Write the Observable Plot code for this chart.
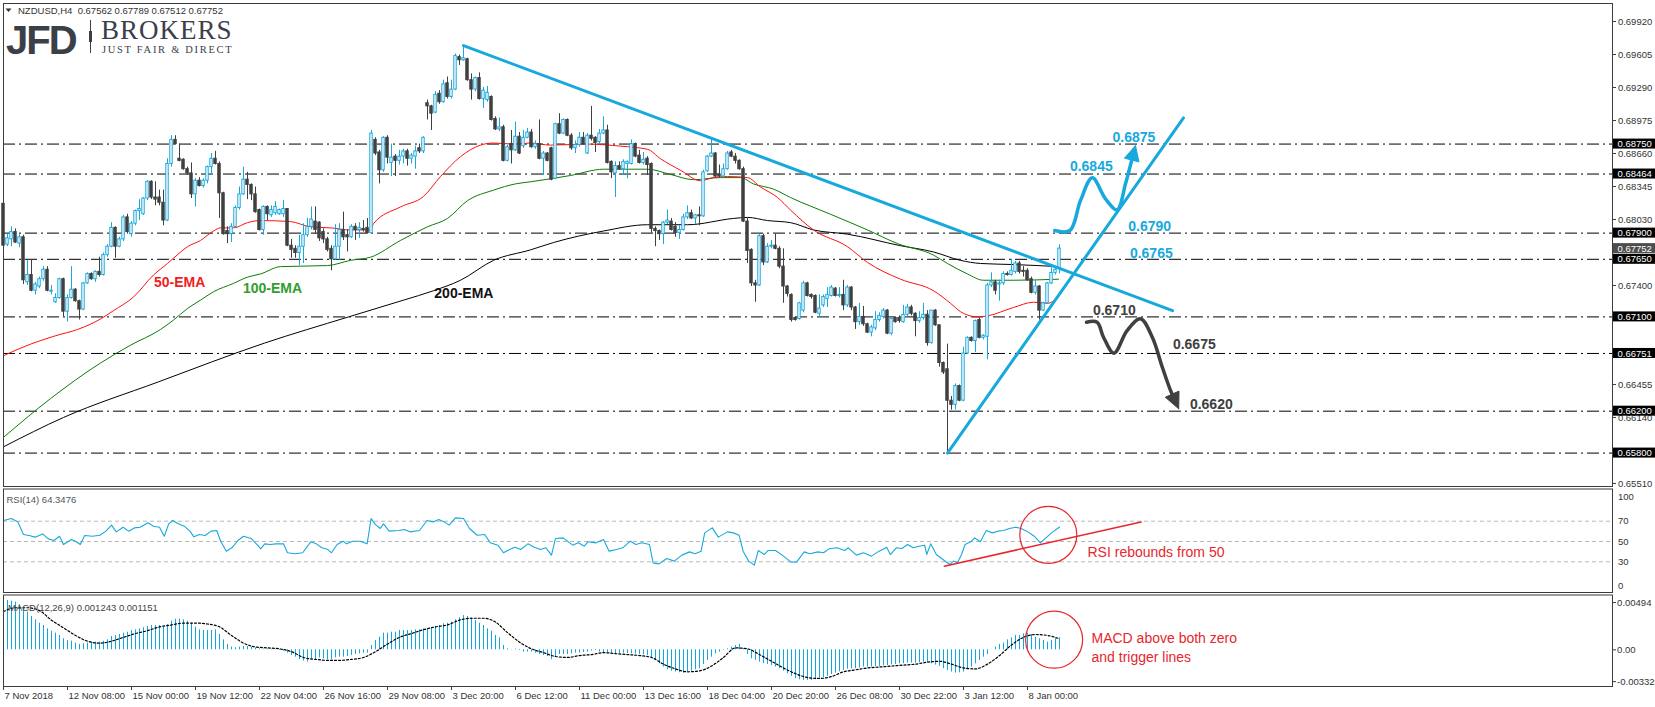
<!DOCTYPE html>
<html>
<head>
<meta charset="utf-8">
<script src="https://cdn.jsdelivr.net/npm/d3@7"></script>
<script src="https://cdn.jsdelivr.net/npm/@observablehq/plot@0.6"></script>
<style>
  html, body { margin: 0; padding: 0; background: #fff; }
  #chart { position: relative; width: 1655px; height: 707px; overflow: hidden; background: #fff; }
  .panel { position: absolute; left: 0; width: 1655px; }
  .panel svg { display: block; max-width: none !important; }
</style>
</head>
<body>
<div id="chart">
  <div id="main" class="panel" style="top:0px"></div>
  <div id="rsi" class="panel" style="top:488px"></div>
  <div id="macd" class="panel" style="top:594px"></div>
  <svg id="overlay" width="420" height="72" style="position:absolute;left:0;top:0;pointer-events:none">
    <path d="M5.5,8.5 L11.5,8.5 L8.5,12 Z" fill="#333"/>
    <text x="18" y="14" font-family="Liberation Sans, Arial, sans-serif" font-size="9.5" fill="#333" style="white-space:pre">NZDUSD,H4  0.67562 0.67789 0.67512 0.67752</text>
    <text x="6" y="53.5" font-family="Liberation Sans, Arial, sans-serif" font-weight="bold" font-size="40" letter-spacing="-2" fill="#3b4048">JFD</text>
    <line x1="90.5" y1="20" x2="90.5" y2="53" stroke="#3b4048" stroke-width="1"/>
    <rect x="89" y="31" width="3" height="11" fill="#3b4048"/>
    <text x="101" y="38.5" font-family="Liberation Serif, Times New Roman, serif" font-size="27" letter-spacing="1" fill="#3b4048">BROKERS</text>
    <text x="102" y="53" font-family="Liberation Serif, Times New Roman, serif" font-size="10.5" letter-spacing="1.7" fill="#3b4048">JUST FAIR &amp; DIRECT</text>
  </svg>
</div>
<script>
// ---------------- DATA ----------------
// NZDUSD H4 candles, bar index 0..264
const opens = [
.6818,.6779,.6784,.6791,.6780,.6786,.6743,.6750,.6735,.6739,
.6746,.6755,.6734,.6724,.6728,.6746,.6715,.6728,.6736,.6725,
.6717,.6742,.6751,.6746,.6753,.6750,.6769,.6777,.6795,.6777,
.6784,.6805,.6789,.6799,.6811,.6808,.6823,.6839,.6824,.6824,
.6819,.6802,.6856,.6879,.6861,.6860,.6851,.6847,.6827,.6840,
.6835,.6840,.6853,.6861,.6856,.6828,.6792,.6789,.6796,.6814,
.6827,.6841,.6836,.6827,.6812,.6793,.6815,.6807,.6809,.6808,
.6808,.6813,.6778,.6775,.6771,.6777,.6788,.6796,.6801,.6800,
.6791,.6784,.6775,.6765,.6777,.6793,.6788,.6786,.6796,.6793,
.6794,.6795,.6790,.6879,.6867,.6850,.6881,.6857,.6863,.6859,
.6863,.6868,.6861,.6863,.6871,.6868,.6914,.6911,.6905,.6923,
.6915,.6933,.6920,.6927,.6958,.6955,.6956,.6936,.6927,.6938,
.6918,.6917,.6920,.6899,.6889,.6891,.6859,.6875,.6869,.6882,
.6873,.6881,.6886,.6872,.6875,.6861,.6866,.6871,.6842,.6894,
.6885,.6898,.6883,.6871,.6874,.6881,.6866,.6883,.6881,.6877,
.6885,.6888,.6858,.6847,.6854,.6851,.6856,.6856,.6875,.6864,
.6857,.6861,.6856,.6794,.6792,.6789,.6800,.6801,.6796,.6790,
.6793,.6805,.6809,.6804,.6807,.6806,.6849,.6863,.6866,.6846,
.6844,.6851,.6867,.6863,.6859,.6851,.6801,.6774,.6742,.6740,
.6787,.6762,.6777,.6778,.6775,.6758,.6739,.6731,.6709,.6708,
.6716,.6742,.6731,.6730,.6713,.6721,.6727,.6730,.6737,.6730,
.6731,.6721,.6738,.6719,.6705,.6710,.6703,.6695,.6699,.6707,
.6710,.6716,.6694,.6709,.6709,.6705,.6712,.6719,.6713,.6706,
.6709,.6712,.6685,.6716,.6702,.6666,.6660,.6630,.6626,.6644,
.6630,.6675,.6690,.6687,.6707,.6690,.6691,.6740,.6743,.6741,
.6742,.6751,.6750,.6753,.6761,.6754,.6754,.6746,.6733,.6739,
.6716,.6723,.6742,.6752,.67562];
const highs = [
.6820,.6789,.6796,.6794,.6789,.6788,.6764,.6764,.6743,.6748,
.6758,.6758,.6740,.6732,.6747,.6747,.6731,.6758,.6737,.6726,
.6743,.6752,.6752,.6754,.6767,.6771,.6779,.6800,.6796,.6786,
.6807,.6808,.6801,.6812,.6822,.6824,.6840,.6840,.6839,.6831,
.6831,.6861,.6883,.6883,.6875,.6861,.6853,.6857,.6842,.6843,
.6842,.6854,.6866,.6868,.6858,.6829,.6796,.6799,.6816,.6834,
.6853,.6848,.6837,.6834,.6813,.6816,.6816,.6816,.6820,.6813,
.6821,.6813,.6784,.6778,.6788,.6799,.6804,.6815,.6815,.6801,
.6794,.6786,.6778,.6798,.6799,.6810,.6793,.6798,.6799,.6800,
.6802,.6804,.6888,.6881,.6869,.6882,.6883,.6875,.6865,.6869,
.6870,.6870,.6866,.6873,.6875,.6882,.6917,.6912,.6925,.6926,
.6936,.6939,.6936,.6961,.6960,.6969,.6957,.6942,.6939,.6943,
.6929,.6930,.6921,.6901,.6900,.6893,.6874,.6888,.6896,.6886,
.6888,.6890,.6889,.6878,.6898,.6868,.6867,.6872,.6895,.6904,
.6899,.6899,.6885,.6878,.6886,.6886,.6885,.6911,.6882,.6889,
.6901,.6893,.6859,.6858,.6858,.6860,.6859,.6879,.6876,.6869,
.6867,.6863,.6857,.6796,.6793,.6801,.6812,.6804,.6800,.6797,
.6808,.6816,.6812,.6808,.6815,.6850,.6864,.6881,.6867,.6855,
.6856,.6868,.6869,.6866,.6860,.6853,.6804,.6775,.6745,.6789,
.6789,.6780,.6783,.6789,.6777,.6775,.6740,.6732,.6710,.6724,
.6744,.6743,.6732,.6731,.6731,.6731,.6738,.6740,.6738,.6738,
.6745,.6740,.6739,.6720,.6723,.6720,.6704,.6702,.6715,.6714,
.6718,.6717,.6709,.6710,.6711,.6721,.6722,.6721,.6714,.6715,
.6723,.6716,.6716,.6717,.6702,.6667,.6684,.6634,.6646,.6645,
.6681,.6691,.6691,.6707,.6709,.6693,.6742,.6752,.6745,.6745,
.6753,.6753,.6765,.6763,.6763,.6758,.6756,.6748,.6745,.6740,
.6724,.6743,.6757,.6758,.67789];
const lows = [
.6774,.6777,.6777,.6780,.6776,.6741,.6740,.6734,.6731,.6737,
.6744,.6734,.6731,.6723,.6727,.6710,.6705,.6727,.6724,.6707,
.6716,.6741,.6745,.6743,.6748,.6749,.6767,.6776,.6766,.6776,
.6782,.6789,.6786,.6797,.6802,.6807,.6821,.6822,.6816,.6816,
.6797,.6801,.6853,.6874,.6858,.6850,.6845,.6823,.6815,.6834,
.6833,.6837,.6845,.6855,.6804,.6788,.6780,.6781,.6795,.6812,
.6826,.6822,.6821,.6809,.6792,.6788,.6802,.6805,.6807,.6807,
.6805,.6777,.6766,.6766,.6759,.6761,.6786,.6793,.6789,.6782,
.6780,.6772,.6754,.6764,.6764,.6783,.6772,.6785,.6783,.6785,
.6791,.6789,.6789,.6864,.6837,.6848,.6856,.6844,.6844,.6855,
.6856,.6854,.6856,.6851,.6866,.6866,.6898,.6888,.6904,.6913,
.6914,.6918,.6918,.6926,.6950,.6954,.6935,.6917,.6925,.6917,
.6909,.6915,.6897,.6888,.6887,.6858,.6858,.6856,.6868,.6865,
.6871,.6880,.6871,.6870,.6860,.6845,.6858,.6840,.6841,.6884,
.6884,.6882,.6869,.6866,.6872,.6874,.6865,.6878,.6867,.6875,
.6884,.6856,.6842,.6824,.6850,.6845,.6842,.6855,.6862,.6856,
.6855,.6845,.6790,.6777,.6783,.6779,.6798,.6792,.6786,.6784,
.6792,.6803,.6803,.6798,.6797,.6805,.6848,.6862,.6843,.6843,
.6842,.6850,.6862,.6856,.6850,.6800,.6761,.6739,.6724,.6739,
.6759,.6761,.6775,.6774,.6756,.6723,.6729,.6705,.6706,.6707,
.6714,.6729,.6727,.6713,.6709,.6719,.6719,.6729,.6729,.6728,
.6716,.6719,.6716,.6698,.6702,.6701,.6694,.6691,.6697,.6705,
.6708,.6693,.6692,.6704,.6704,.6704,.6710,.6711,.6691,.6704,
.6707,.6682,.6684,.6701,.6662,.6655,.6579,.6621,.6621,.6629,
.6629,.6674,.6686,.6676,.6689,.6688,.6669,.6738,.6731,.6725,
.6740,.6749,.6749,.6751,.6751,.6748,.6744,.6732,.6731,.6707,
.6715,.6722,.6741,.6750,.67512];
const closes = [
.6778,.6785,.6791,.6781,.6786,.6745,.6750,.6735,.6741,.6746,
.6755,.6735,.6735,.6728,.6746,.6715,.6728,.6736,.6725,.6717,
.6742,.6751,.6746,.6753,.6750,.6769,.6777,.6795,.6777,.6784,
.6805,.6791,.6799,.6811,.6813,.6823,.6839,.6824,.6822,.6819,
.6802,.6856,.6879,.6875,.6859,.6851,.6847,.6827,.6840,.6835,
.6840,.6853,.6861,.6856,.6828,.6789,.6789,.6796,.6814,.6827,
.6841,.6836,.6827,.6810,.6793,.6815,.6808,.6812,.6815,.6812,
.6813,.6778,.6774,.6771,.6777,.6788,.6796,.6803,.6793,.6785,
.6784,.6774,.6765,.6777,.6793,.6786,.6786,.6796,.6793,.6795,
.6793,.6790,.6885,.6866,.6850,.6881,.6862,.6862,.6859,.6863,
.6868,.6861,.6864,.6868,.6868,.6881,.6911,.6904,.6922,.6915,
.6932,.6920,.6927,.6959,.6955,.6957,.6936,.6927,.6938,.6918,
.6926,.6924,.6898,.6889,.6891,.6859,.6872,.6869,.6882,.6866,
.6881,.6886,.6872,.6875,.6861,.6866,.6859,.6841,.6894,.6885,
.6898,.6883,.6871,.6874,.6881,.6875,.6883,.6880,.6876,.6885,
.6888,.6857,.6848,.6854,.6851,.6858,.6858,.6875,.6863,.6857,
.6860,.6855,.6794,.6792,.6789,.6800,.6802,.6793,.6790,.6793,
.6805,.6809,.6804,.6807,.6806,.6848,.6863,.6866,.6844,.6844,
.6851,.6866,.6863,.6859,.6851,.6801,.6773,.6742,.6740,.6787,
.6762,.6777,.6778,.6775,.6758,.6739,.6732,.6707,.6707,.6723,
.6742,.6730,.6729,.6714,.6718,.6729,.6731,.6738,.6730,.6731,
.6721,.6738,.6719,.6705,.6710,.6703,.6695,.6700,.6707,.6711,
.6716,.6694,.6708,.6705,.6706,.6712,.6719,.6713,.6706,.6709,
.6712,.6685,.6716,.6702,.6666,.6657,.6630,.6626,.6644,.6630,
.6675,.6690,.6687,.6706,.6690,.6692,.6740,.6743,.6735,.6742,
.6751,.6750,.6754,.6761,.6753,.6753,.6745,.6733,.6739,.6716,
.6723,.6742,.6752,.6755,.67752];

// Moving averages (bar position, value)
const ema50X = [0,6.75,13,18.5,24.25,27.5,32.5,37.5,41,42.5,46,49.25,52.5,54.25,57.5,61,64.25,71.75,76.75,81.75,86.75,91.75,92.5,99.25,105,109.25,114.25,119.25,122.5,127.5,131.75,136.75,146,154.25,161,164.25,169.25,174.25,177.5,181,186,189.25,193.5,196.75,202.5,211,216,224.25,232.5,236.75,239.25,243.5,246,252.5,257.5,261,263.75];
const ema50V = [.6673,.6684,.6692,.6698,.6708,.6716,.6729,.6750,.6761,.6766,.6777,.6783,.6792,.6795,.6795,.6800,.6802,.6801,.6796,.6795,.6793,.6793,.6799,.6815,.6825,.6844,.6863,.6874,.6876,.6875,.6876,.6874,.6875,.6873,.6870,.6861,.6850,.6840,.6843,.6844,.6843,.6834,.6824,.6812,.6793,.6777,.6762,.6746,.6735,.6723,.6715,.6710,.6711,.6719,.6724,.6723,.6729];
const ema100X = [0,11.75,24.25,31.75,39.25,42.5,46,49.25,52.5,57.5,61,64.25,69.25,81,86.75,91.75,99.25,106,111,116,122.5,128,131.75,141.75,150,161,166.75,172.5,179.25,184.25,187.5,192.5,196.75,206.75,216,223.5,232.5,236,241,245,252.5,263.75];
const ema100V = [.6595,.6632,.6666,.6683,.6698,.6707,.6718,.6726,.6734,.6742,.6748,.6751,.6758,.6759,.6764,.6767,.6783,.6796,.6804,.6821,.6831,.6837,.6839,.6845,.6851,.6851,.6846,.6841,.6843,.6843,.6837,.6832,.6824,.6808,.6793,.6780,.6769,.6761,.6751,.6745,.6745,.6746];
const ema200X = [0,15,38.75,65.25,86.25,100,107.5,114.25,122.5,131.75,137.5,150,161,171,182.5,186,191,196.75,202.5,211,224.25,232.5,239.25,244.25,252.5,263.75];
const ema200V = [.6586,.6614,.6648,.6685,.6710,.6726,.6735,.6745,.6764,.6774,.6781,.6792,.6798,.6798,.6804,.6805,.6802,.6800,.6793,.6789,.6778,.6772,.6764,.6761,.6760,.6758];

// Horizontal support / resistance levels and price-axis ticks
const levelVals = [0.68750, 0.68464, 0.67900, 0.67650, 0.67100, 0.66751, 0.66200, 0.65800];
const priceTicks = [0.69920, 0.69605, 0.69290, 0.68975, 0.68660, 0.68345, 0.68030, 0.67400, 0.66455, 0.66140, 0.65510];
const lastPrice = 0.67752;

// Trend lines (bar position, price)
const downX = [115, 292.25], downY = [0.6969, 0.6716];
const upX = [236, 295], upY = [0.6580, 0.6900];

// Scenario paths (bar position, price)
const bullX = [262.8, 266.6, 269.25, 272.2, 275.5, 278.4, 280.5, 283];
const bullY = [0.67925, 0.67925, 0.68211, 0.68428, 0.68227, 0.68122, 0.68371, 0.68736];
const bearX = [270.75, 273.4, 275, 277.6, 280.9, 284.25, 287.2, 289.7, 291.75, 293.8];
const bearY = [0.67049, 0.67049, 0.66906, 0.66754, 0.66970, 0.67082, 0.66906, 0.66620, 0.66398, 0.66223];

// Text annotations in the price panel
const bullTxt = ["0.6875", "0.6845", "0.6790", "0.6765"];
const bullTX = [282.6, 271.95, 286.55, 286.95];
const bullTY = [0.68816, 0.68539, 0.67966, 0.67705];
const bearTxt = ["0.6710", "0.6675", "0.6620"];
const bearTX = [277.7, 297.7, 301.95];
const bearTY = [0.67161, 0.66837, 0.66264];
const emaTxt = ["50-EMA", "100-EMA", "200-EMA"];
const emaTX = [44.05, 67.25, 115.1];
const emaTY = [0.67426, 0.67374, 0.67321];

// RSI(14) line (bar position, value)
const rsiX = [0,2,3.6,5,6.4,7.9,9.8,11.2,12.6,14,15,17,18,19.2,20.3,22.2,24.1,25.6,27,28.2,29.9,31.3,32.7,34.2,36.1,37.5,39,40.2,41.3,42.3,43.7,45.2,46.6,47.6,49,50.4,51.9,53.3,54.3,55.7,57.1,58.6,60,61.9,63.4,64.3,65.3,66.7,68.1,70,71,72.9,74.8,76.8,78.2,79.6,81.1,82,83.4,84.9,85.8,87.3,89.2,90.9,91.9,93,94.2,95,96.4,98.8,100.2,101.6,104,105.9,107.4,108.8,110.2,111.4,113,115,116.5,118.4,120.3,121.7,123.6,125,126.5,127.9,129.3,131.1,132.7,134.2,135.6,137,138,139.9,142.3,143.7,145.2,146.1,148.1,150,151.4,153.3,154.8,156.7,158.1,159.6,161.5,162.4,163.9,165.8,167.7,169.6,171.5,172.9,174.4,175.3,177.2,178.7,181,182.5,183.9,184.9,186.3,187.7,188.7,190.2,191.1,193,195,196.9,198.3,200.2,201.6,203.6,205,206.4,208.4,210.3,211.2,213.2,215,217,218.9,220.8,221.7,223.2,224.6,226,227.4,228.9,230.3,230.8,231.8,233.2,235.2,236.6,237.5,238.5,239.5,240.4,241.8,242.8,244.2,245.7,247.2,248.6,250,251.5,253,254.4,255.8,257.7,259.2,260.6,262,264];
const rsiV = [70.7,72.6,69.3,56.9,55.9,54.3,57.5,52.6,51,55.2,47,52,50.3,47,55.9,55.2,56.2,60.2,66.1,59.5,64.1,60.2,63.4,64.1,68.4,65.1,64.1,55.2,67.4,70.7,67.4,65.1,60.2,54.6,56.9,55.9,60.2,60.8,50.3,40.5,43.8,51,55.2,53,47,42.8,47.7,47,47.7,47.7,38.9,37.9,38.9,49.7,47.7,43.8,42.1,38.9,47,50.3,47.7,50.3,50.3,47.7,72.6,66.7,62.8,67.4,60.2,60.8,61.8,59.5,60.8,70.7,69.3,71.6,69.3,66.1,73.3,72.6,62.8,56.2,56.9,48.7,46.4,38.9,42.1,44.4,42.1,47.7,44.4,42.1,43.8,36.6,53,53.6,46.4,48.7,45.4,49.7,48.7,52,40.5,42.1,43.8,50.3,47,48.7,47,29,28,33.3,30.7,36.6,39.8,37.9,40.5,58.5,63.4,54.3,59.5,58.5,56.2,40.5,30.7,26.7,41.1,37.2,41.1,41.1,35.6,29.7,30,39.8,37.9,39.8,38.9,42.8,43.8,41.1,43.8,36.6,38.9,35.6,40.5,44.4,37.2,43.8,43.1,47,43.8,45.4,46.4,37.2,47.7,37.2,31.3,27.4,30.7,29,37.2,47,49.7,53.6,49.7,60.8,58.5,60.2,60.8,62.8,64.1,62.8,60.2,55.2,48.7,53.6,58.5,64.3];
const rsiLevels = [70, 50, 30];

// MACD(12,26,9) histogram per bar and signal line samples
const macdHist = [
.00515,.00515,.00508,.00498,.00473,.00438,.00393,.00348,.00313,.00278,
.00254,.00219,.00195,.00174,.00150,.00115,.00097,.00090,.00070,.00056,
.00063,.00070,.00080,.00080,.00080,.00090,.00104,.00139,.00150,.00160,
.00174,.00184,.00202,.00209,.00219,.00230,.00244,.00254,.00254,.00254,
.00237,.00264,.00299,.00320,.00320,.00313,.00299,.00278,.00237,.00209,
.00202,.00202,.00202,.00209,.00160,.00104,.00056,.00028,.00021,.00028,
.00035,.00035,.00028,.00021,.00010,.00007,.00007,.00003,-.00003,-.00007,
-.00014,-.00035,-.00059,-.00077,-.00104,-.00118,-.00129,-.00094,-.00104,-.00084,
-.00094,-.00104,-.00104,-.00084,-.00077,-.00077,-.00070,-.00059,-.00049,-.00042,
-.00035,-.00035,.00045,.00097,.00132,.00174,.00174,.00184,.00184,.00202,
.00202,.00202,.00202,.00209,.00209,.00219,.00219,.00230,.00244,.00254,
.00271,.00278,.00289,.00313,.00334,.00358,.00348,.00334,.00306,.00278,
.00254,.00219,.00195,.00150,.00125,.00045,.00010,.00003,.00007,-.00007,
-.00024,-.00024,-.00024,-.00035,-.00049,-.00059,-.00070,-.00104,-.00070,-.00049,
-.00049,-.00049,-.00042,-.00035,-.00035,-.00028,-.00024,-.00014,-.00007,-.00024,
-.00028,-.00035,-.00038,-.00042,-.00038,-.00035,-.00038,-.00042,-.00045,-.00049,
-.00052,-.00059,-.00084,-.00111,-.00146,-.00181,-.00209,-.00223,-.00233,-.00240,
-.00244,-.00233,-.00223,-.00209,-.00198,-.00153,-.00111,-.00077,-.00042,-.00024,
-.00007,.00010,.00028,.00045,.00056,.00010,-.00049,-.00094,-.00111,-.00129,
-.00146,-.00153,-.00164,-.00181,-.00198,-.00223,-.00251,-.00278,-.00303,-.00313,
-.00320,-.00320,-.00320,-.00313,-.00306,-.00292,-.00278,-.00258,-.00244,-.00230,
-.00216,-.00202,-.00198,-.00198,-.00191,-.00181,-.00181,-.00181,-.00177,-.00174,
-.00167,-.00164,-.00157,-.00153,-.00146,-.00146,-.00139,-.00139,-.00139,-.00136,
-.00129,-.00132,-.00146,-.00160,-.00174,-.00198,-.00216,-.00233,-.00244,-.00240,
-.00233,-.00209,-.00181,-.00146,-.00111,-.00077,-.00049,0,.00028,.00056,
.00070,.00104,.00125,.00150,.00150,.00167,.00174,.00160,.00132,.00115,
.00097,.00080,.00097,.00115,.00125];
const sigX = [0,3,6,9,12,15,18,21,24,27,30,33,36,39,42,45,48,51,54,57,60,63,66,69,72,75,78,81,84,87,90,93,96,99,102,105,108,111,114,117,120,123,126,129,132,135,138,141,144,147,150,153,156,159,162,165,168,171,174,177,180,183,186,189,192,195,198,201,204,207,210,213,216,219,222,225,228,231,234,237,240,243,246,249,252,255,258,261,264];
const sigV = [.0040,.0044,.0044,.0041,.0031,.0023,.0015,.0009,.0007,.0009,.0013,.0017,.0020,.0024,.0026,.0028,.0028,.0027,.0024,.0015,.0007,.0003,.0002,.0001,-.0002,-.0008,-.0010,-.0011,-.0011,-.0010,-.0008,-.0002,.0006,.0013,.0017,.0021,.0024,.0026,.0031,.0033,.0033,.0029,.0018,.0008,.0001,-.0003,-.0007,-.0008,-.0006,-.0005,-.0003,-.0004,-.0005,-.0006,-.0008,-.0015,-.0020,-.0023,-.0022,-.0017,-.0008,.0002,.0001,-.0005,-.0012,-.0019,-.0025,-.0029,-.0030,-.0028,-.0023,-.0021,-.0019,-.0018,-.0017,-.0016,-.0015,-.0013,-.0012,-.0015,-.0019,-.0020,-.0015,-.0006,.0005,.0013,.0016,.0015,.00115];
const macdAxis = [0.00494, 0, -0.003329];
const macdAxisTxt = ["0.00494", "0.00", "-0.003329"];

// Time axis labels
const dateIdx = [0,16,32,48,64,80,96,112,128,144,160,176,192,208,224,240,256];
const dateTxt = ["7 Nov 2018","12 Nov 08:00","15 Nov 00:00","19 Nov 12:00","22 Nov 04:00","26 Nov 16:00","29 Nov 08:00","3 Dec 20:00","6 Dec 12:00","11 Dec 00:00","13 Dec 16:00","18 Dec 04:00","20 Dec 20:00","26 Dec 08:00","30 Dec 22:00","3 Jan 12:00","8 Jan 00:00"];

// Indicator annotations
const rsiTrend = [{x: 235.2, y: 25.7}, {x: 284.4, y: 69.3}];
const rsiRing = [{x: 261.2, y: 56.6}];
const rsiNote = [{x: 271, y: 39, t: "RSI rebounds from 50"}];
const macdRing = [{x: 262.65, y: 0.00106}];
const macdNote = [{x: 272, y: 0.00115, t: "MACD above both zero"}, {x: 272, y: -0.00077, t: "and trigger lines"}];

// ---------------- DRAWING ----------------
const FONT = "Liberation Sans, Arial, Helvetica, sans-serif";
const CYAN = "#17a9de", DARK = "#404040", RED = "#e8262d", AXIS = "#3c3c3c", TXT = "#333";
const XD = [0, 402.25];
const Y0 = 0.65481, Y1 = 0.70092;
const pxPerBar = 1609 / 402.25, pricePerPx = (Y1 - Y0) / 483;

const bars = opens.map((o, i) => ({i, o, h: highs[i], l: lows[i], c: closes[i]}));
const upBars = bars.filter(d => d.c >= d.o);
const dnBars = bars.filter(d => d.c < d.o);
const pts = (xs, ys) => xs.map((x, i) => ({x, y: ys[i]}));

function headTri(tip, from, len, halfW) {
  const tx = tip.x * pxPerBar, ty = -tip.y / pricePerPx;
  const fx = from.x * pxPerBar, fy = -from.y / pricePerPx;
  const dx = tx - fx, dy = ty - fy, n = Math.hypot(dx, dy);
  const ux = dx / n, uy = dy / n;
  const bx = tx - ux * len, by = ty - uy * len;
  const p = [[tx, ty], [bx - uy * halfW, by + ux * halfW], [bx + uy * halfW, by - ux * halfW], [tx, ty]];
  return {tri: p.map(([a, b]) => ({x: a / pxPerBar, y: -b * pricePerPx})),
          base: {x: bx / pxPerBar, y: -by * pricePerPx}};
}
const bullP = pts(bullX, bullY), bearP = pts(bearX, bearY);
const bullH = headTri(bullP[bullP.length - 1], bullP[bullP.length - 2], 15, 7.5);
const bearH = headTri(bearP[bearP.length - 1], bearP[bearP.length - 2], 16, 7.5);
const bullLine = bullP.slice(0, -1).concat([bullH.base]);
const bearLine = bearP.slice(0, -1).concat([bearH.base]);

const boxH = 5 * pricePerPx;

const mainPlot = Plot.plot({
  width: 1655, height: 489,
  marginLeft: 3, marginRight: 43, marginTop: 3, marginBottom: 3,
  x: {domain: XD, axis: null},
  y: {domain: [Y0, Y1], axis: null},
  style: {fontFamily: FONT, background: "transparent", overflow: "visible"},
  marks: [
    Plot.ruleY(levelVals, {stroke: "#000", strokeWidth: 1, strokeDasharray: "12,4,2,4"}),
    Plot.line(pts(ema200X, ema200V), {x: "x", y: "y", stroke: "#000", strokeWidth: 1, curve: "monotone-x"}),
    Plot.line(pts(ema100X, ema100V), {x: "x", y: "y", stroke: "#0a7d0a", strokeWidth: 1, curve: "monotone-x"}),
    Plot.line(pts(ema50X, ema50V), {x: "x", y: "y", stroke: "#ff1010", strokeWidth: 1, curve: "monotone-x"}),
    Plot.ruleX(upBars, {x: "i", y1: "l", y2: "h", stroke: CYAN, strokeWidth: 1}),
    Plot.ruleX(dnBars, {x: "i", y1: "l", y2: "h", stroke: DARK, strokeWidth: 1}),
    Plot.rect(upBars, {x1: d => d.i - 0.3, x2: d => d.i + 0.3, y1: "o", y2: "c", fill: "white", stroke: CYAN, strokeWidth: 1}),
    Plot.rect(dnBars, {x1: d => d.i - 0.3, x2: d => d.i + 0.3, y1: "o", y2: "c", fill: DARK, stroke: DARK, strokeWidth: 1}),
    Plot.line(pts(downX, downY), {x: "x", y: "y", stroke: CYAN, strokeWidth: 3}),
    Plot.line(pts(upX, upY), {x: "x", y: "y", stroke: CYAN, strokeWidth: 3}),
    Plot.line(bullLine, {x: "x", y: "y", stroke: CYAN, strokeWidth: 3.5, curve: "catmull-rom"}),
    Plot.line(bullH.tri, {x: "x", y: "y", fill: CYAN, stroke: CYAN, strokeWidth: 1}),
    Plot.line(bearLine, {x: "x", y: "y", stroke: DARK, strokeWidth: 3.5, curve: "catmull-rom"}),
    Plot.line(bearH.tri, {x: "x", y: "y", fill: DARK, stroke: DARK, strokeWidth: 1}),
    Plot.text(bullTxt, {x: bullTX, y: bullTY, text: d => d, fill: CYAN, fontSize: 14, fontWeight: "bold"}),
    Plot.text(bearTxt, {x: bearTX, y: bearTY, text: d => d, fill: DARK, fontSize: 14, fontWeight: "bold"}),
    Plot.text(emaTxt, {x: emaTX, y: emaTY, text: d => d, fill: ["#f01e1e", "#2e9e2e", "#111"], fontSize: 14, fontWeight: "bold"}),
    Plot.frame({stroke: AXIS}),
    Plot.ruleY(priceTicks, {x1: 402.25, x2: 403.25, stroke: AXIS}),
    Plot.text(priceTicks, {x: 403.6, y: d => d, text: d => d.toFixed(5), textAnchor: "start", fontSize: 9.5, fill: TXT}),
    Plot.rect(levelVals, {x1: 402.5, x2: 414, y1: d => d - boxH, y2: d => d + boxH, fill: "#000"}),
    Plot.text(levelVals, {x: 403.5, y: d => d, text: d => d.toFixed(5), textAnchor: "start", fontSize: 9.5, fill: "#fff"}),
    Plot.rect([lastPrice], {x1: 402.5, x2: 414, y1: d => d - boxH, y2: d => d + boxH, fill: "#4d4d4d"}),
    Plot.text([lastPrice], {x: 403.5, y: d => d, text: d => d.toFixed(5), textAnchor: "start", fontSize: 9.5, fill: "#fff"})
  ]
});
document.getElementById("main").append(mainPlot);

const rsiPlot = Plot.plot({
  width: 1655, height: 106,
  marginLeft: 3, marginRight: 43, marginTop: 0.5, marginBottom: 2,
  x: {domain: XD, axis: null},
  y: {domain: [-0.2, 101.7], axis: null},
  style: {fontFamily: FONT, background: "transparent", overflow: "visible"},
  marks: [
    Plot.ruleY(rsiLevels, {stroke: "#b8b8b8", strokeDasharray: "4,3"}),
    Plot.line(pts(rsiX, rsiV), {x: "x", y: "y", stroke: CYAN, strokeWidth: 1.1}),
    Plot.line(rsiTrend, {x: "x", y: "y", stroke: RED, strokeWidth: 1.5}),
    Plot.dot(rsiRing, {x: "x", y: "y", r: 28.5, stroke: RED, fill: "none", strokeWidth: 1.2}),
    Plot.text(rsiNote, {x: "x", y: "y", text: "t", textAnchor: "start", fill: RED, fontSize: 14}),
    Plot.frame({stroke: AXIS}),
    Plot.text(["RSI(14) 64.3476"], {frameAnchor: "top-left", dx: 3, dy: 7.5, text: d => d, textAnchor: "start", fontSize: 9.5, fill: "#555"}),
    Plot.text(rsiLevels, {x: 403.6, y: d => d, text: d => String(d), textAnchor: "start", fontSize: 9.5, fill: TXT}),
    Plot.text([100], {x: 403.6, y: d => d, dy: 6, text: d => String(d), textAnchor: "start", fontSize: 9.5, fill: TXT}),
    Plot.text([0], {x: 403.6, y: d => d, dy: -6.5, text: d => String(d), textAnchor: "start", fontSize: 9.5, fill: TXT})
  ]
});
document.getElementById("rsi").append(rsiPlot);

const MB = -0.003839, MT = 0.005732, macdPx = (MT - MB) / 91.5;
const macdPlot = Plot.plot({
  width: 1655, height: 113,
  marginLeft: 3, marginRight: 43, marginTop: 0.5, marginBottom: 21,
  x: {domain: XD, axis: null},
  y: {domain: [MB, MT], axis: null},
  style: {fontFamily: FONT, background: "transparent", overflow: "visible"},
  marks: [
    Plot.ruleX(macdHist, {x: (d, i) => i, y1: 0, y2: d => d, stroke: "#12a6dc", strokeWidth: 1}),
    Plot.line(pts(sigX, sigV), {x: "x", y: "y", stroke: "#000", strokeWidth: 1.2, strokeDasharray: "2,2", curve: "monotone-x"}),
    Plot.dot(macdRing, {x: "x", y: "y", r: 28.5, stroke: RED, fill: "none", strokeWidth: 1.2}),
    Plot.text(macdNote, {x: "x", y: "y", text: "t", textAnchor: "start", fill: RED, fontSize: 14}),
    Plot.frame({stroke: AXIS}),
    Plot.text(["MACD(12,26,9) 0.001243 0.001151"], {frameAnchor: "top-left", dx: 4.5, dy: 9.5, text: d => d, textAnchor: "start", fontSize: 9.5, fill: "#444"}),
    Plot.ruleY(macdAxis, {x1: 402.25, x2: 403.25, stroke: AXIS}),
    Plot.text(macdAxisTxt, {x: 403.4, y: macdAxis, text: d => d, textAnchor: "start", fontSize: 9.5, fill: TXT}),
    Plot.ruleX(dateIdx, {x: d => d, y1: MB, y2: MB - 4 * macdPx, stroke: AXIS}),
    Plot.text(dateTxt, {x: dateIdx, y: dateIdx.map(() => MB), dy: 9.5, dx: 1, text: d => d, textAnchor: "start", fontSize: 9.5, fill: TXT})
  ]
});
document.getElementById("macd").append(macdPlot);
</script>
</body>
</html>
